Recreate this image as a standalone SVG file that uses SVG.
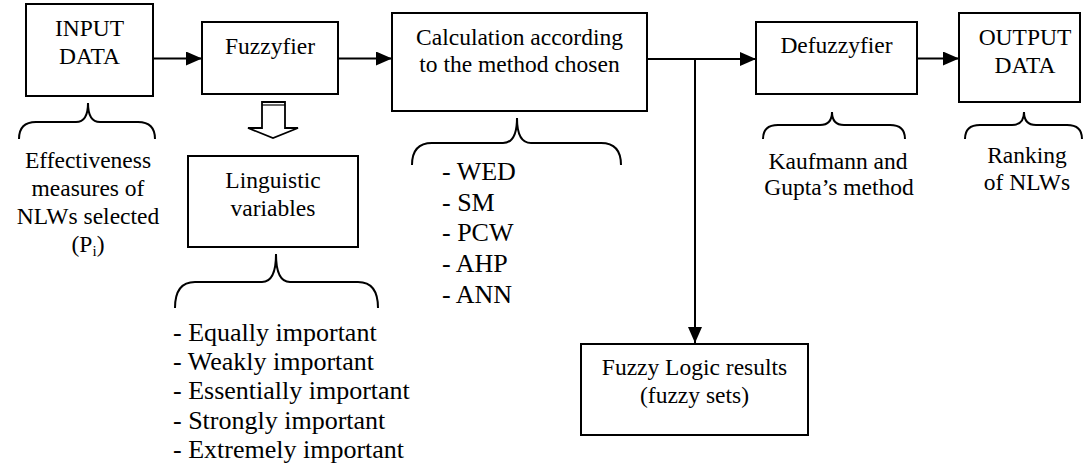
<svg xmlns="http://www.w3.org/2000/svg" width="1084" height="473" viewBox="0 0 1084 473">
<defs>
<style>
text{font-family:"Liberation Serif","Times New Roman",serif;font-size:23.5px;fill:#000}
.c{text-anchor:middle}
.lst{font-size:26px}
.box{fill:#fff;stroke:#000;stroke-width:2}
.ln{fill:none;stroke:#000;stroke-width:2}
.br{fill:none;stroke:#000;stroke-width:2}
</style>
<marker id="ah" viewBox="0 0 16 14" refX="16" refY="7" markerWidth="16" markerHeight="14" markerUnits="userSpaceOnUse" orient="auto">
<path d="M0,0 L16,7 L0,14 Z" fill="#000"/>
</marker>
</defs>
<rect width="1084" height="473" fill="#fff"/>
<g id="connectors">
<line class="ln" x1="153" y1="58.5" x2="202" y2="58.5" marker-end="url(#ah)"/>
<line class="ln" x1="338" y1="58.5" x2="392" y2="58.5" marker-end="url(#ah)"/>
<line class="ln" x1="647" y1="59" x2="756" y2="59" marker-end="url(#ah)"/>
<line class="ln" x1="695" y1="59" x2="695" y2="343" marker-end="url(#ah)"/>
<line class="ln" x1="917" y1="58.5" x2="959" y2="58.5" marker-end="url(#ah)"/>
<g id="hollow-arrow">
<path d="M262,102 L285,102 L285,128 L298,128 L273,138 L248,128 L262,128 Z" fill="#fff" stroke="#000" stroke-width="1.8" stroke-linejoin="miter"/>
<line x1="262" y1="105" x2="285" y2="105" stroke="#000" stroke-width="1.2"/>
</g>
</g>
<g id="input-data">
<rect class="box" x="26" y="4" width="127" height="92"/>
<text class="c" x="89.5" y="36">INPUT</text>
<text class="c" x="89.5" y="64">DATA</text>
</g>
<g id="fuzzyfier">
<rect class="box" x="202" y="22" width="136" height="72"/>
<text class="c" x="270" y="54">Fuzzyfier</text>
</g>
<g id="calculation">
<rect class="box" x="392" y="13" width="255" height="98"/>
<text class="c" x="519.5" y="45">Calculation according</text>
<text class="c" x="519.5" y="72">to the method chosen</text>
</g>
<g id="defuzzyfier">
<rect class="box" x="756" y="22" width="161" height="72"/>
<text class="c" x="836.5" y="53">Defuzzyfier</text>
</g>
<g id="output-data">
<rect class="box" x="959" y="13" width="121" height="89"/>
<text class="c" x="1025" y="45">OUTPUT</text>
<text class="c" x="1025" y="73">DATA</text>
</g>
<g id="linguistic-variables">
<rect class="box" x="188" y="156" width="170" height="91"/>
<text class="c" x="273" y="188">Linguistic</text>
<text class="c" x="273" y="216">variables</text>
</g>
<g id="fuzzy-logic-results">
<rect class="box" x="581" y="344" width="227" height="91"/>
<text class="c" x="694.5" y="375">Fuzzy Logic results</text>
<text class="c" x="694.5" y="403">(fuzzy sets)</text>
</g>
<g id="input-note">
<path class="br" d="M19,139 Q19,122 36,122 L76,122 Q88,122 88,103 Q88,122 100,122 L138,122 Q155,122 155,139"/>
<text class="c" x="88" y="168">Effectiveness</text>
<text class="c" x="88" y="196">measures of</text>
<text class="c" x="88" y="224">NLWs selected</text>
<text class="c" x="88" y="252">(P<tspan font-size="15" dy="4">i</tspan><tspan dy="-4">)</tspan></text>
</g>
<g id="linguistic-note">
<path class="br" d="M175,308 Q175,282 195,282 L262,282 Q276,282 276,254 Q276,282 290,282 L358,282 Q378,282 378,308"/>
<text class="lst" x="173" y="341">- Equally important</text>
<text class="lst" x="173" y="370">- Weakly important</text>
<text class="lst" x="173" y="399">- Essentially important</text>
<text class="lst" x="173" y="429">- Strongly important</text>
<text class="lst" x="173" y="458">- Extremely important</text>
</g>
<g id="methods-note">
<path class="br" d="M412,165 Q412,143 432,143 L503,143 Q517,143 517,118 Q517,143 531,143 L601,143 Q621,143 621,165"/>
<text class="lst" x="442" y="180">- WED</text>
<text class="lst" x="442" y="211">- SM</text>
<text class="lst" x="442" y="241">- PCW</text>
<text class="lst" x="442" y="272">- AHP</text>
<text class="lst" x="442" y="303">- ANN</text>
</g>
<g id="defuzz-note">
<path class="br" d="M763,139 Q763,125 778,125 L820,125 Q832,125 832,112 Q832,125 844,125 L890,125 Q905,125 905,139"/>
<text class="c" x="838" y="169">Kaufmann and</text>
<text class="c" x="839" y="195">Gupta’s method</text>
</g>
<g id="output-note">
<path class="br" d="M965,139 Q965,125 980,125 L1012,125 Q1024,125 1024,112 Q1024,125 1036,125 L1067,125 Q1082,125 1082,139"/>
<text class="c" x="1027" y="163">Ranking</text>
<text class="c" x="1027" y="190">of NLWs</text>
</g>
</svg>
